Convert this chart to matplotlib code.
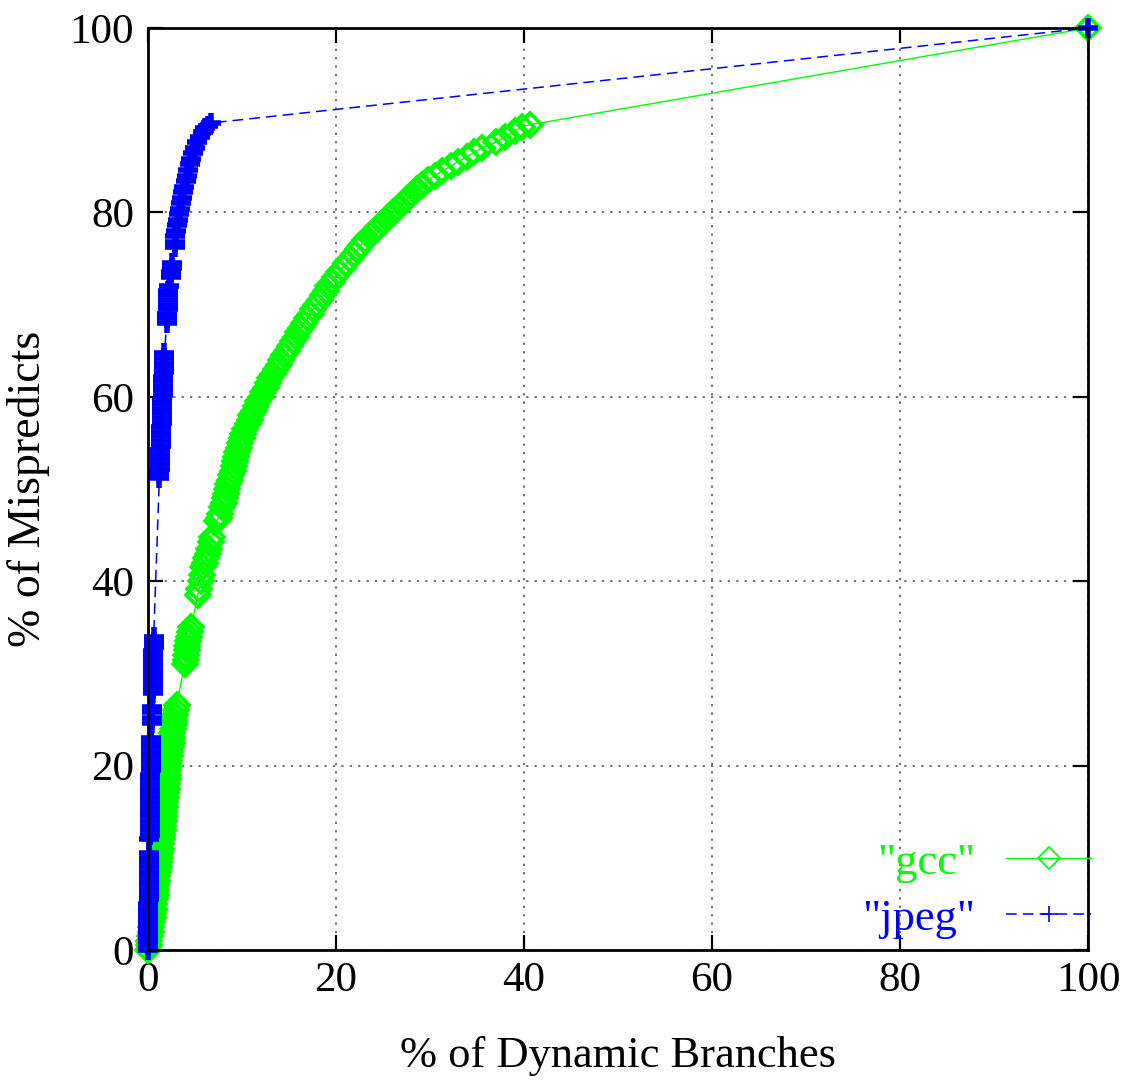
import matplotlib
matplotlib.use("Agg")
import matplotlib.pyplot as plt

# cumulative % of mispredicts vs % of dynamic branches
gcc_x = [0.0, 0.1, 0.15, 0.25, 0.3, 0.35, 0.4, 0.5, 0.55, 0.6, 0.65, 0.7, 0.8, 0.85, 0.9,
         0.95, 1.0, 1.1, 1.15, 1.2, 1.25, 1.3, 1.35, 1.4, 1.45, 1.5, 1.55, 1.6, 1.65, 1.7,
         1.75, 1.8, 1.85, 1.9, 1.95, 2.0, 2.05, 2.1, 2.15, 2.18, 2.2, 2.25, 2.3, 2.35, 2.4,
         2.5, 2.55, 2.6, 2.65, 2.75, 2.8, 2.9, 2.95, 3.05,
         3.9, 4.0, 4.05, 4.15, 4.2, 4.3, 4.4, 4.5, 4.6,
         5.3, 5.45, 5.6, 5.75, 5.9, 6.05, 6.2, 6.35, 6.5, 6.65, 6.8,
         7.3, 7.5, 7.7, 7.9, 8.05, 8.2, 8.3, 8.4, 8.55, 8.7, 8.85, 9.0, 9.15, 9.3, 9.4, 9.5,
         9.65, 9.8, 9.95, 10.1, 10.35, 10.6, 10.8, 11.0, 11.25, 11.5, 11.75, 12.0,
         12.25, 12.5, 12.75, 13.0, 13.3, 13.6, 13.9, 14.2, 14.5, 14.8, 15.1, 15.4, 15.7,
         16.0, 16.3, 16.6, 16.95, 17.3, 17.6, 17.9, 18.25, 18.6, 18.9, 19.2, 19.55, 19.9,
         20.3, 20.7, 21.1, 21.5, 21.9, 22.3, 22.7, 23.1, 23.6, 24.1, 24.6, 25.1, 25.6,
         26.1, 26.6, 27.1, 27.6, 28.1, 28.6, 29.2, 29.8, 30.5, 31.3, 32.2, 33.0, 33.9,
         34.7, 35.5, 37.0, 38.0, 39.0, 39.8, 40.6, 100.0]
gcc_y = [0, 0.5, 1, 1.5, 2, 2.5, 3, 3.5, 4, 4.5, 5, 5.5, 6, 6.5, 7,
         7.5, 8, 8.5, 9, 9.5, 10, 10.5, 11, 11.5, 12, 12.5, 13, 13.5, 14, 14.5,
         15, 15.5, 16, 16.5, 17, 17.5, 18, 18.5, 19, 19.5, 20, 20.5, 21, 21.5, 22,
         22.5, 23, 23.5, 24, 24.5, 25, 25.5, 26, 26.6,
         31, 31.5, 32, 32.5, 33, 33.5, 34, 34.5, 35,
         38.5, 39.2, 40, 40.7, 41.5, 42, 42.5, 43, 43.5, 44.2, 44.8,
         46.5, 46.9, 47.3, 48, 48.5, 49, 49.5, 50, 50.5, 51, 51.5, 52, 52.5, 53, 53.5, 54,
         54.5, 55, 55.5, 56, 56.5, 57, 57.5, 58, 58.5, 59, 59.5, 60,
         60.5, 61, 61.5, 62, 62.5, 63, 63.5, 64, 64.5, 65, 65.5, 66, 66.5,
         67, 67.5, 68, 68.5, 69, 69.5, 70, 70.5, 71, 71.5, 72, 72.5, 73,
         73.5, 74, 74.5, 75, 75.5, 76, 76.5, 77, 77.5, 78, 78.5, 79, 79.5,
         80, 80.5, 81, 81.5, 82, 82.5, 83, 83.5, 84, 84.5, 85, 85.5, 86,
         86.5, 87, 87.6, 88.2, 88.8, 89.3, 89.5, 100]

jpeg_x = [0.0, 0.01, 0.01, 0.02, 0.02, 0.03, 0.03, 0.04, 0.04, 0.05, 0.05, 0.06, 0.06,
          0.07, 0.07, 0.08, 0.08, 0.09, 0.09, 0.10, 0.10, 0.11,
          0.15, 0.16, 0.17, 0.18, 0.19, 0.20, 0.21, 0.22, 0.22, 0.23, 0.24, 0.24, 0.25,
          0.26, 0.26, 0.27, 0.27, 0.28, 0.28, 0.29, 0.29, 0.30, 0.30,
          0.40, 0.40, 0.41, 0.42,
          0.50, 0.51, 0.52, 0.53, 0.54, 0.55, 0.56, 0.57, 0.57, 0.58, 0.59, 0.59, 0.60,
          1.20, 1.22, 1.24, 1.26, 1.28, 1.30, 1.32, 1.34, 1.36, 1.38, 1.40, 1.42, 1.44,
          1.46, 1.48, 1.50, 1.52, 1.54, 1.56, 1.58, 1.60, 1.62, 1.64, 1.66, 1.68, 1.70,
          1.72, 1.75,
          2.00, 2.03, 2.06, 2.09, 2.12, 2.14, 2.16, 2.18, 2.20,
          2.45, 2.48, 2.52, 2.55,
          2.85, 2.88, 2.92, 2.95,
          3.1, 3.2, 3.3, 3.4, 3.5, 3.6, 3.7, 3.85, 4.0, 4.15, 4.3, 4.45, 4.6, 4.8, 5.0,
          5.25, 5.5, 5.8, 6.1, 6.4, 6.7, 100.0]
jpeg_y = [0, 0.5, 1, 1.5, 2, 2.5, 3, 3.5, 4, 4.5, 5, 5.5, 6,
          6.5, 7, 7.5, 8, 8.5, 9, 9.5, 10, 10.5,
          12, 12.5, 13, 13.5, 14, 14.5, 15, 15.5, 16, 16.5, 17, 17.5, 18,
          18.5, 19, 19.5, 20, 20.5, 21, 21.5, 22, 22.5, 23,
          24.6, 25.2, 25.8, 26.4,
          27.9, 28.4, 28.9, 29.4, 29.9, 30.4, 30.9, 31.4, 31.9, 32.4, 32.9, 33.4, 33.9,
          51.2, 51.7, 52.2, 52.7, 53.2, 53.7, 54.2, 54.7, 55.2, 55.7, 56.2, 56.7, 57.2,
          57.7, 58.2, 58.7, 59.2, 59.7, 60.2, 60.7, 61.2, 61.7, 62.2, 62.7, 63.2, 63.7,
          64.2, 64.7,
          68, 68.5, 69, 69.5, 70, 70.5, 71, 71.5, 72,
          73, 73.5, 74, 74.5,
          76.2, 76.8, 77.4, 78,
          78.6, 79.2, 79.8, 80.4, 81.0, 81.6, 82.2, 82.8, 83.4, 84.0, 84.6, 85.2, 85.8, 86.4, 87.0,
          87.6, 88.2, 88.7, 89.1, 89.4, 89.7, 100]

ticks = [0, 20, 40, 60, 80, 100]

plt.rcParams['font.family'] = ['Liberation Serif', 'DejaVu Serif']

fig = plt.figure(figsize=(11.27, 10.92), dpi=100)
ax = fig.add_axes([148 / 1127, 1 - 950 / 1092, 940 / 1127, 922 / 1092])

ax.plot(gcc_x, gcc_y, color='#00ff00', lw=1, marker='D', markersize=12,
        markerfacecolor='none', markeredgewidth=2.6, label='"gcc"', clip_on=False)
ax.plot(jpeg_x, jpeg_y, color='#0000ff', lw=1.1, linestyle=(0, (7, 4)), marker='+',
        markersize=15, markeredgewidth=4.0, label='"jpeg"', clip_on=False)

ax.set_xlim(0, 100)
ax.set_ylim(0, 100)
ax.set_xticks(ticks)
ax.set_yticks(ticks)
ax.grid(True, color='0.3', linestyle=(0, (1.5, 4)), linewidth=1.1)
ax.set_axisbelow(True)

ax.tick_params(direction='in', length=11, width=1.6, top=True, right=True, labelsize=31)
ax.tick_params(axis='x', pad=8)
ax.tick_params(axis='y', pad=10)
for s in ax.spines.values():
    s.set_linewidth(2)

ax.set_xlabel('% of Dynamic Branches', fontsize=32, labelpad=26)
ax.set_ylabel('% of Mispredicts', fontsize=33, labelpad=14)

leg = ax.legend(loc='lower right', bbox_to_anchor=(1.022, -0.007), frameon=False,
                markerfirst=False, fontsize=32, handlelength=1.9, handletextpad=0.7,
                labelspacing=0.35, borderaxespad=0, numpoints=1, labelcolor='linecolor')
for h in leg.legend_handles:
    h.set_markeredgewidth(1.2)
    h.set_markersize(11)

fig.savefig('out.png', dpi=100)
